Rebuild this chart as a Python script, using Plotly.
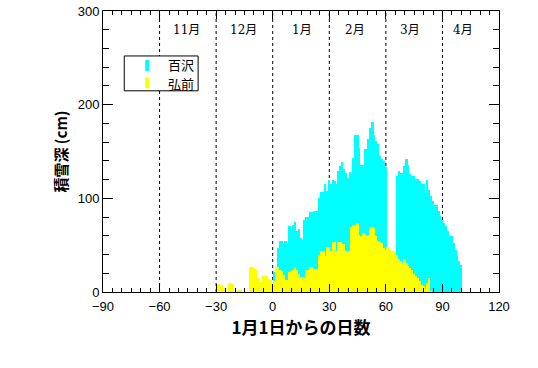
import plotly.graph_objects as go

# 弘前 (Hirosaki) daily snow depth, days from Jan 1 (-30 .. 100)
hirosaki_days = list(range(-30, 101))
hirosaki_cm = [
    0, 9, 8, 7, 5, 0, 0, 10, 10, 9,          # -30 .. -21
    0, 0, 2, 2, 0, 0, 0, 0, 27, 27,          # -20 .. -11
    26, 24, 15, 11, 11, 17, 17, 17, 14, 13,  # -10 .. -1
    10, 12, 27, 27, 24, 22, 18, 13, 13, 21,  # 0 .. 9
    22, 23, 27, 23, 19, 16, 16, 15, 24, 24,  # 10 .. 19
    27, 27, 25, 25, 25, 39, 44, 44, 38, 48,  # 20 .. 29
    48, 44, 53, 53, 44, 53, 53, 51, 51, 44,  # 30 .. 39
    44, 45, 69, 72, 72, 74, 61, 60, 63, 62,  # 40 .. 49
    60, 61, 69, 69, 68, 60, 54, 53, 52, 47,  # 50 .. 59
    45, 48, 46, 44, 44, 44, 39, 35, 33, 31,  # 60 .. 69
    35, 31, 28, 26, 24, 19, 17, 15, 12, 8,   # 70 .. 79
    6, 3, 10, 15, 1, 0, 0, 0, 0, 0,          # 80 .. 89
    0, 0, 0, 0, 0, 0, 0, 0, 0, 0, 0,         # 90 .. 100
]

# 百沢 (Hyakuzawa) daily snow depth, days 1 .. 100 (None = missing)
hyakuzawa_days = list(range(1, 101))
hyakuzawa_cm = [
    21, 21, 47, 54, 54, 51, 54, 51, 71, 67,            # 1 .. 10
    72, 75, 65, 67, 58, 56, 77, 80, 80, 85,            # 11 .. 20
    85, 87, 87, 87, 100, 107, 107, 115, 108, 120,      # 21 .. 30
    115, 120, 118, 115, 129, 134, 139, 131, 127, 122,  # 31 .. 40
    128, 126, 143, 168, 168, 154, 136, 136, 153, 153,  # 41 .. 50
    163, 175, 182, 168, 161, 158, 145, 142, 140, 133,  # 51 .. 60
    None, None, None, None, None, 124, 129, 127, 127, 134,  # 61 .. 70
    142, 136, 126, 124, 124, 121, 121, 118, 115, 115,  # 71 .. 80
    106, 120, 109, 102, 97, 93, 93, 86, 81, 77,        # 81 .. 90
    74, 71, 65, 60, 60, 52, 45, 38, 33, 29,            # 91 .. 100
]

series_names = ["百沢", "弘前"]
month_labels = ["11月", "12月", "1月", "2月", "3月", "4月"]
month_label_x = [-45.5, -15.5, 15.3, 43.6, 72.7, 100.8]
month_bounds = [-60, -30, 0, 30, 60, 90]

CYAN = "#00FFFF"
YELLOW = "#FFFF00"
TICKFONT = dict(family="Liberation Sans, Arial, sans-serif", size=13, color="black")
JPFONT = "Noto Sans CJK JP"

fig = go.Figure()
fig.add_trace(go.Bar(x=hyakuzawa_days, y=hyakuzawa_cm, width=1,
                     marker=dict(color=CYAN, line=dict(width=0)),
                     showlegend=False, name=series_names[0]))
fig.add_trace(go.Bar(x=hirosaki_days, y=hirosaki_cm, width=1,
                     marker=dict(color=YELLOW, line=dict(width=0)),
                     showlegend=False, name=series_names[1]))

for b in month_bounds:
    fig.add_shape(type="line", x0=b, x1=b, y0=0, y1=1, xref="x", yref="paper",
                  line=dict(color="black", width=1, dash="dot"), layer="below")

for lab, xp in zip(month_labels, month_label_x):
    fig.add_annotation(x=xp, y=280, text=lab, showarrow=False,
                       font=dict(family="DejaVu Serif, Noto Sans CJK JP", size=12, color="black"))

# legend box drawn in paper coordinates
fig.add_shape(type="rect", xref="paper", yref="paper", x0=0.0537, x1=0.2402,
              y0=0.716, y1=0.840, line=dict(color="black", width=1),
              fillcolor="white", layer="above")
legend_rows = [(series_names[0], CYAN, 0.8089, 0.8064),
               (series_names[1], YELLOW, 0.7421, 0.7442)]
for nm, col, ty, iy in legend_rows:
    fig.add_shape(type="line", xref="paper", yref="paper", x0=0.1115, x1=0.1115,
                  y0=iy - 0.0195, y1=iy + 0.0195, line=dict(color=col, width=4),
                  layer="above")
    fig.add_annotation(xref="paper", yref="paper", x=0.2335, y=ty, text=nm,
                       xanchor="right", yanchor="middle", showarrow=False,
                       borderpad=0,
                       font=dict(family=JPFONT, size=13, color="black"))

fig.update_layout(
    width=538, height=368,
    margin=dict(l=103, r=39, t=11, b=76),
    paper_bgcolor="white", plot_bgcolor="white",
    barmode="overlay", bargap=0,
    showlegend=False,
    xaxis=dict(range=[-90, 120], tick0=0, dtick=30, ticks="inside", ticklen=8,
               tickwidth=1, tickcolor="black", showline=True, linecolor="black",
               linewidth=1, mirror="allticks", showgrid=False, zeroline=False,
               automargin=False, tickfont=TICKFONT, ticklabelstandoff=2,
               minor=dict(dtick=5, ticks="inside", ticklen=4, tickcolor="black",
                          showgrid=False),
               title=dict(text="1月1日からの日数", standoff=4,
                          font=dict(family=JPFONT, size=17, color="black", weight="bold"))),
    yaxis=dict(range=[0, 300], dtick=100, ticks="inside", ticklen=10,
               tickwidth=1, tickcolor="black", showline=True, linecolor="black",
               linewidth=1, mirror="allticks", showgrid=False, zeroline=False,
               automargin=False, tickfont=TICKFONT,
               minor=dict(dtick=20, ticks="inside", ticklen=6, tickcolor="black",
                          showgrid=False),
               title=dict(text="積雪深 (cm)", standoff=6,
                          font=dict(family=JPFONT, size=15, color="black", weight="bold"))),
)

fig.write_html("out.html")
